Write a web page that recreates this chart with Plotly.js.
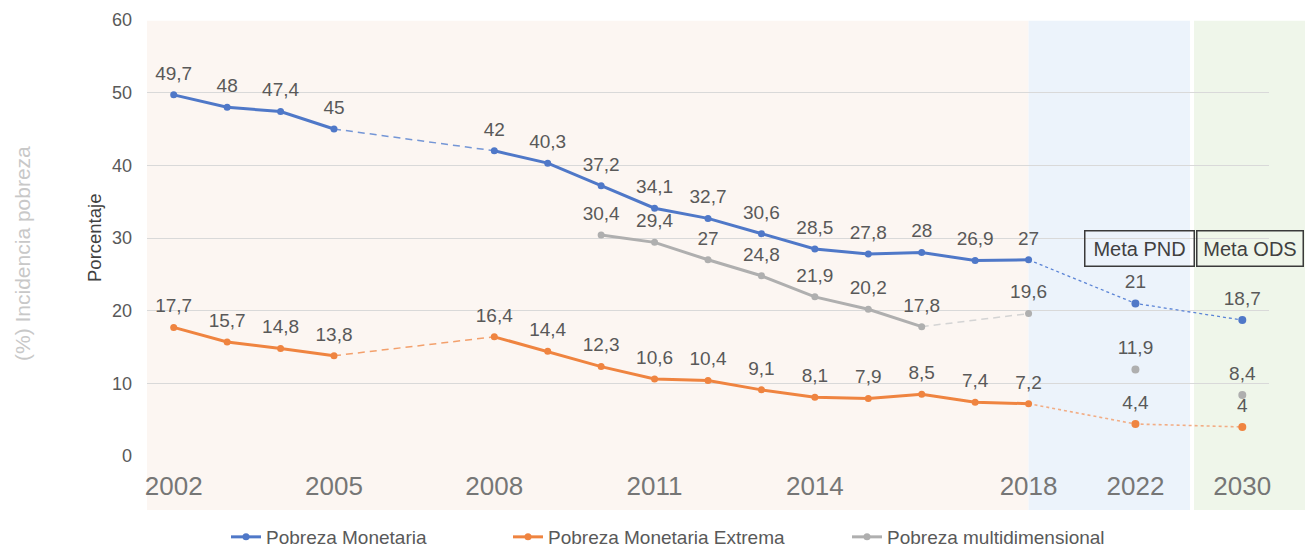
<!DOCTYPE html>
<html>
<head>
<meta charset="utf-8">
<script src="https://cdn.plot.ly/plotly-3.0.1.min.js"></script>
<style>
  html, body { margin: 0; padding: 0; background: #ffffff; }
  #chart { width: 1305px; height: 548px; }
</style>
</head>
<body>
<div id="chart"></div>
<script>
// ---------------- DATA ----------------
const years = [2002, 2003, 2004, 2005, 2006, 2007, 2008, 2009, 2010, 2011, 2012, 2013, 2014, 2015, 2016, 2017, 2018, 2022, 2030];
const lastObservedYear = 2018;

const pobrezaMonetaria = [49.7, 48, 47.4, 45, null, null, 42, 40.3, 37.2, 34.1, 32.7, 30.6, 28.5, 27.8, 28, 26.9, 27, 21, 18.7];
const pobrezaExtrema   = [17.7, 15.7, 14.8, 13.8, null, null, 16.4, 14.4, 12.3, 10.6, 10.4, 9.1, 8.1, 7.9, 8.5, 7.4, 7.2, 4.4, 4];
const pobrezaMulti     = [null, null, null, null, null, null, null, null, 30.4, 29.4, 27, 24.8, 21.9, 20.2, 17.8, null, 19.6, 11.9, 8.4];

const seriesNames = ['Pobreza Monetaria', 'Pobreza Monetaria Extrema', 'Pobreza multidimensional'];
const tickYears = [2002, 2005, 2008, 2011, 2014, 2018, 2022, 2030];
const metaLabels = ['Meta PND', 'Meta ODS'];

// ---------------- HELPERS ----------------
const lastIdx = years.indexOf(lastObservedYear);
// category slot on the axis: one slot per observed year, then every target year separated by an empty slot
const slotOf = i => (i <= lastIdx ? i : lastIdx + 2 * (i - lastIdx));
const fmt = v => (v == null ? '' : String(v).replace('.', ','));

const FONT = 'Liberation Sans, Arial, Helvetica, sans-serif';
const LABEL_COLOR = '#595959';

const styles = [
  { color: '#4f78c8', bridge: '#7496d6', proj: '#5b84d6', projWidth: 1.3, projDash: 'dot', projLine: true, legend: 'legend' },
  { color: '#ef8440', bridge: '#f3a06c', proj: '#f2ad85', projWidth: 1.6, projDash: 'dot', projLine: true, legend: 'legend2' },
  { color: '#afafaf', bridge: '#d4d4d4', proj: '#afafaf', projWidth: 1.3, projDash: 'dot', projLine: false, legend: 'legend3' }
];

const allSeries = [pobrezaMonetaria, pobrezaExtrema, pobrezaMulti];
const lineTraces = [];
const labelTraces = [];
const labelFont = { family: FONT, size: 19, color: LABEL_COLOR };

allSeries.forEach((vals, s) => {
  const st = styles[s];
  const idx = years.map((_, i) => i);
  const obsIdx = idx.filter(i => i <= lastIdx);
  const projIdx = idx.filter(i => i >= lastIdx);
  const tgtIdx = idx.filter(i => i > lastIdx);

  // dashed bridges across missing years
  let prev = null;
  obsIdx.forEach(i => {
    if (vals[i] == null) return;
    if (prev !== null && i - prev > 1) {
      lineTraces.push({
        x: [slotOf(prev), slotOf(i)], y: [vals[prev], vals[i]],
        mode: 'lines', showlegend: false, hoverinfo: 'skip',
        line: { color: st.bridge, width: 1.5, dash: '7px,5px' }
      });
    }
    prev = i;
  });

  // projection dotted line (2018 -> targets)
  if (st.projLine) {
    lineTraces.push({
      x: projIdx.map(slotOf), y: projIdx.map(i => vals[i]),
      mode: 'lines', showlegend: false, hoverinfo: 'skip',
      line: { color: st.proj, width: st.projWidth, dash: st.projDash }
    });
  }

  // observed solid line
  lineTraces.push({
    name: seriesNames[s], legend: st.legend,
    x: obsIdx.map(slotOf), y: obsIdx.map(i => vals[i]),
    mode: 'lines+markers', connectgaps: false,
    line: { color: st.color, width: 3 },
    marker: { color: st.color, size: 7 },
    cliponaxis: false
  });

  // target points
  lineTraces.push({
    x: tgtIdx.map(slotOf), y: tgtIdx.map(i => vals[i]),
    mode: 'markers', showlegend: false,
    marker: { color: st.color, size: 8 },
    cliponaxis: false
  });

  // value labels (transparent spacer markers push the text a little higher)
  labelTraces.push({
    x: idx.map(slotOf), y: idx.map(i => vals[i]),
    text: idx.map(i => fmt(vals[i])),
    mode: 'markers+text', showlegend: false, hoverinfo: 'skip',
    textposition: 'top center', textfont: labelFont,
    marker: { size: 15, color: 'rgba(0,0,0,0)' },
    cliponaxis: false
  });
});

const traces = lineTraces.concat(labelTraces);

// ---------------- LAYOUT ----------------
const nSlots = slotOf(years.length - 1) + 1;           // 21 slots
const paperOfSlotEdge = k => (k + 0.5) / nSlots;       // right edge of slot k
const tickSlots = tickYears.map(y => slotOf(years.indexOf(y)));

const legendCommon = {
  orientation: 'h', yref: 'container', xref: 'container',
  yanchor: 'middle', y: 1 - 537 / 548, xanchor: 'left',
  font: { family: FONT, size: 19, color: LABEL_COLOR },
  bgcolor: 'rgba(0,0,0,0)', itemwidth: 30
};

const layout = {
  width: 1305, height: 548,
  margin: { l: 147, r: 36, t: 20, b: 92 },
  paper_bgcolor: '#ffffff',
  plot_bgcolor: 'rgba(0,0,0,0)',
  font: { family: FONT, color: LABEL_COLOR },
  xaxis: {
    range: [-0.5, nSlots - 0.5],
    tickvals: tickSlots, ticktext: tickYears.map(String),
    showgrid: false, zeroline: false, showline: false, ticks: '',
    tickfont: { family: FONT, size: 26, color: '#767676' },
    ticklabelstandoff: 12,
    fixedrange: true
  },
  yaxis: {
    range: [0, 60], dtick: 10,
    showgrid: true, gridcolor: '#d9d9d9', gridwidth: 1,
    zeroline: false, showline: false, ticks: '',
    tickfont: { family: FONT, size: 18, color: LABEL_COLOR },
    ticklabelstandoff: 14,
    fixedrange: true
  },
  showlegend: true,
  legend:  Object.assign({}, legendCommon, { x: 226 / 1305 }),
  legend2: Object.assign({}, legendCommon, { x: 508 / 1305 }),
  legend3: Object.assign({}, legendCommon, { x: 847 / 1305 }),
  shapes: [
    { type: 'rect', xref: 'paper', yref: 'paper', layer: 'below',
      x0: 0, x1: paperOfSlotEdge(lastIdx), y0: -0.124, y1: 0.998,
      fillcolor: '#fcf6f2', line: { width: 0 } },
    { type: 'rect', xref: 'paper', yref: 'paper', layer: 'below',
      x0: paperOfSlotEdge(lastIdx), x1: (1190 - 147) / 1122, y0: -0.124, y1: 0.998,
      fillcolor: '#ecf3fb', line: { width: 0 } },
    { type: 'rect', xref: 'paper', yref: 'paper', layer: 'below',
      x0: (1194 - 147) / 1122, x1: (1305 - 147) / 1122, y0: -0.124, y1: 0.998,
      fillcolor: '#eff6ea', line: { width: 0 } }
  ],
  annotations: [
    { text: 'Porcentaje', xref: 'paper', yref: 'paper', x: (94 - 147) / 1122, y: (456 - 238) / 436,
      xanchor: 'center', yanchor: 'middle', textangle: -90, showarrow: false,
      font: { family: FONT, size: 18.5, color: '#404040' } },
    { text: '(%) Incidencia pobreza', xref: 'paper', yref: 'paper', x: (22 - 147) / 1122, y: (456 - 254) / 436,
      xanchor: 'center', yanchor: 'middle', textangle: -90, showarrow: false,
      font: { family: FONT, size: 21, color: '#c8c8c8' } },
    { text: metaLabels[0], xref: 'paper', yref: 'paper', x: (1139.5 - 147) / 1122, y: (456 - 248) / 436,
      xanchor: 'center', yanchor: 'middle', showarrow: false,
      width: 108, height: 34, borderpad: 0, borderwidth: 1.5, bordercolor: '#3a3a3a',
      font: { family: FONT, size: 20, color: '#404040' } },
    { text: metaLabels[1], xref: 'paper', yref: 'paper', x: (1250 - 147) / 1122, y: (456 - 248) / 436,
      xanchor: 'center', yanchor: 'middle', showarrow: false,
      width: 105, height: 34, borderpad: 0, borderwidth: 1.5, bordercolor: '#3a3a3a',
      font: { family: FONT, size: 20, color: '#404040' } }
  ]
};

Plotly.newPlot('chart', traces, layout, { displayModeBar: false, staticPlot: true });
</script>
</body>
</html>
